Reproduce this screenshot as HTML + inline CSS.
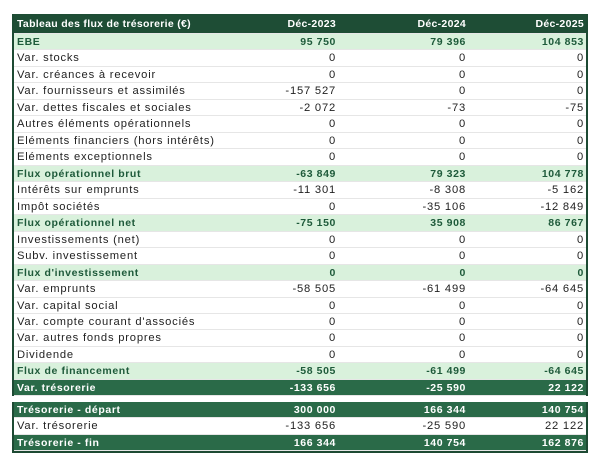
<!DOCTYPE html>
<html><head><meta charset="utf-8"><style>
body{margin:0;background:#fff;width:600px;height:463px;position:relative;font-family:"Liberation Sans",sans-serif;font-size:11.2px;letter-spacing:0.8px;color:#222}
.t{position:absolute;left:12px;width:576px;border-left:2px solid #1d4a33;border-right:2px solid #1d4a33;box-sizing:border-box}
.r{height:16.48px;line-height:16.48px;position:relative;border-bottom:1px solid #e6e6e6;box-sizing:border-box}
.r span{position:absolute;top:0}
.l{left:3px}.a{right:250px}.b{right:120px}.c{right:2px}
.h{background:#1e4d35;color:#fff;font-weight:bold;height:20px;line-height:20px;font-size:10.5px;letter-spacing:0.3px}
.g{background:#d9f1dc;color:#1e5a3a;font-weight:bold;font-size:10.5px;letter-spacing:0.6px}
.d{background:#2a6a48;color:#fff;font-weight:bold;font-size:10.5px;letter-spacing:0.6px}
</style></head><body>
<div class="t" style="top:14px">
<div class="r h"><span class="l">Tableau des flux de trésorerie (€)</span><span class="a">Déc-2023</span><span class="b">Déc-2024</span><span class="c">Déc-2025</span></div>
<div class="r g"><span class="l">EBE</span><span class="a">95 750</span><span class="b">79 396</span><span class="c">104 853</span></div>
<div class="r"><span class="l">Var. stocks</span><span class="a">0</span><span class="b">0</span><span class="c">0</span></div>
<div class="r"><span class="l">Var. créances à recevoir</span><span class="a">0</span><span class="b">0</span><span class="c">0</span></div>
<div class="r"><span class="l">Var. fournisseurs et assimilés</span><span class="a">-157 527</span><span class="b">0</span><span class="c">0</span></div>
<div class="r"><span class="l">Var. dettes fiscales et sociales</span><span class="a">-2 072</span><span class="b">-73</span><span class="c">-75</span></div>
<div class="r"><span class="l">Autres éléments opérationnels</span><span class="a">0</span><span class="b">0</span><span class="c">0</span></div>
<div class="r"><span class="l">Eléments financiers (hors intérêts)</span><span class="a">0</span><span class="b">0</span><span class="c">0</span></div>
<div class="r"><span class="l">Eléments exceptionnels</span><span class="a">0</span><span class="b">0</span><span class="c">0</span></div>
<div class="r g"><span class="l">Flux opérationnel brut</span><span class="a">-63 849</span><span class="b">79 323</span><span class="c">104 778</span></div>
<div class="r"><span class="l">Intérêts sur emprunts</span><span class="a">-11 301</span><span class="b">-8 308</span><span class="c">-5 162</span></div>
<div class="r"><span class="l">Impôt sociétés</span><span class="a">0</span><span class="b">-35 106</span><span class="c">-12 849</span></div>
<div class="r g"><span class="l">Flux opérationnel net</span><span class="a">-75 150</span><span class="b">35 908</span><span class="c">86 767</span></div>
<div class="r"><span class="l">Investissements (net)</span><span class="a">0</span><span class="b">0</span><span class="c">0</span></div>
<div class="r"><span class="l">Subv. investissement</span><span class="a">0</span><span class="b">0</span><span class="c">0</span></div>
<div class="r g"><span class="l">Flux d'investissement</span><span class="a">0</span><span class="b">0</span><span class="c">0</span></div>
<div class="r"><span class="l">Var. emprunts</span><span class="a">-58 505</span><span class="b">-61 499</span><span class="c">-64 645</span></div>
<div class="r"><span class="l">Var. capital social</span><span class="a">0</span><span class="b">0</span><span class="c">0</span></div>
<div class="r"><span class="l">Var. compte courant d'associés</span><span class="a">0</span><span class="b">0</span><span class="c">0</span></div>
<div class="r"><span class="l">Var. autres fonds propres</span><span class="a">0</span><span class="b">0</span><span class="c">0</span></div>
<div class="r"><span class="l">Dividende</span><span class="a">0</span><span class="b">0</span><span class="c">0</span></div>
<div class="r g"><span class="l">Flux de financement</span><span class="a">-58 505</span><span class="b">-61 499</span><span class="c">-64 645</span></div>
<div class="r d"><span class="l">Var. trésorerie</span><span class="a">-133 656</span><span class="b">-25 590</span><span class="c">22 122</span></div>
</div>
<div class="t" style="top:402px;border-bottom:2px solid #1d4a33">
<div class="r d"><span class="l">Trésorerie - départ</span><span class="a">300 000</span><span class="b">166 344</span><span class="c">140 754</span></div>
<div class="r"><span class="l">Var. trésorerie</span><span class="a">-133 656</span><span class="b">-25 590</span><span class="c">22 122</span></div>
<div class="r d"><span class="l">Trésorerie - fin</span><span class="a">166 344</span><span class="b">140 754</span><span class="c">162 876</span></div>
</div>
</body></html>
